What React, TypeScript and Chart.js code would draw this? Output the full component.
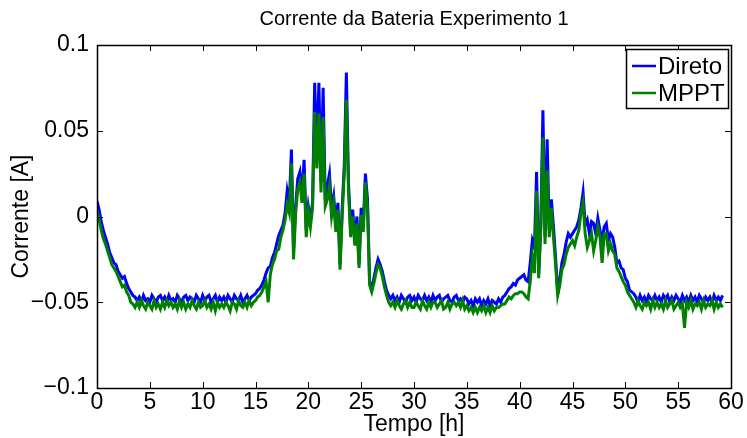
import React, { useEffect, useRef } from "react";
import { Chart, registerables } from "chart.js";

Chart.register(...registerables);

const TITLE = "Corrente da Bateria Experimento 1";
const X_LABEL = "Tempo [h]";
const Y_LABEL = "Corrente [A]";
const SERIES_NAMES = ["Direto", "MPPT"];
const SERIES_COLORS = ["#0000ff", "#008000"];
const X_TICKS = [0, 5, 10, 15, 20, 25, 30, 35, 40, 45, 50, 55, 60];
const Y_TICKS = [-0.1, -0.05, 0, 0.05, 0.1];
const Y_TICK_LABELS = ["\u22120.1", "\u22120.05", "0", "0.05", "0.1"];

// sample spacing of the series (hours)
const SAMPLE_STEP_H = 0.2;

// Battery current, mA, one row per hour (5 samples per hour)
const DIRETO_MA = [
  9, 4, -3, -8, -12,
  -16, -21, -24, -27, -28,
  -32, -34, -36, -35, -39,
  -42, -44, -46, -47, -49,
  -47, -50, -46, -49, -48,
  -50, -46, -48, -50, -47,
  -46, -49, -47, -50, -46,
  -49, -48, -50, -46, -48,
  -50, -47, -46, -49, -47,
  -48, -50, -46, -48, -50,
  -46, -49, -47, -46, -50,
  -48, -46, -50, -47, -49,
  -47, -50, -46, -48, -50,
  -46, -48, -49, -46, -50,
  -48, -46, -49, -47, -46,
  -45, -43, -42, -40, -37,
  -33, -30, -29, -24, -21,
  -16, -11, -8, -5, 2,
  15, 8, 39, -20, 6,
  22, 26, 12, 33, -8,
  6, -2, 8, 78, 35,
  78, 20, 75, 10, 18,
  25, 5, 12, -5, 8,
  -28, 4, 30, 84, 20,
  -8, 4, -14, 0, -28,
  5, -5, 25, 10, -38,
  -42, -36, -30, -25, -28,
  -32, -38, -43, -46, -48,
  -46, -49, -47, -50, -46,
  -48, -50, -47, -46, -49,
  -47, -50, -46, -48, -49,
  -46, -49, -47, -50, -46,
  -49, -47, -46, -50, -48,
  -47, -46, -49, -50, -47,
  -46, -49, -48, -50, -47,
  -48, -51, -49, -52, -48,
  -50, -48, -52, -49, -51,
  -48, -52, -49, -50, -51,
  -48, -50, -47, -46, -44,
  -42, -41, -39, -40, -37,
  -36, -35, -34, -37, -38,
  -27, -14, -18, 26, -33,
  -4, 62, -12, 45, -8,
  10, -6, -24, -45, -36,
  -27, -22, -15, -10, -12,
  -10, -8, -6, -2, 5,
  14, -5, -2, -10, -3,
  -4, -10, -1, -8, -14,
  -6, -4, -14, -10, -12,
  -18, -27, -26, -30, -31,
  -36, -38, -43, -44, -45,
  -47, -50, -46, -49, -47,
  -50, -46, -48, -49, -46,
  -49, -47, -50, -46, -48,
  -46, -50, -47, -49, -46,
  -48, -50, -46, -49, -47,
  -50, -46, -49, -47, -50,
  -46, -48, -50, -47, -49,
  -47, -50, -46, -49, -47,
  -49, -46,
];

const MPPT_MA = [
  4, -2, -8, -13, -16,
  -20, -24, -28, -30, -32,
  -35, -38, -41, -40, -44,
  -46, -50, -51, -53, -50,
  -53, -49, -52, -54, -50,
  -52, -54, -49, -53, -51,
  -54, -50, -53, -49, -52,
  -50, -53, -51, -54, -49,
  -53, -50, -54, -51, -53,
  -49, -52, -54, -50, -53,
  -52, -49, -53, -51, -54,
  -50, -55, -50, -53, -51,
  -53, -50, -52, -55, -50,
  -51, -54, -49, -52, -53,
  -50, -53, -49, -52, -50,
  -49, -47, -46, -44, -41,
  -38, -50, -34, -28, -25,
  -20, -19, -12, -8, -2,
  7, 2, 31, -25, 2,
  16, 20, 8, 25, -12,
  3, -6, 5, 61, 28,
  60, 14, 58, 6, 10,
  18, 0, 8, -9, 4,
  -31, 0, 25, 68, 15,
  -12, 0, -17, -4, -30,
  1, -9, 20, 5, -40,
  -44, -39, -33, -28, -30,
  -35, -41, -46, -50, -52,
  -50, -53, -49, -52, -54,
  -51, -49, -53, -50, -53,
  -53, -50, -52, -54, -49,
  -52, -54, -50, -53, -50,
  -50, -53, -51, -49, -54,
  -53, -50, -54, -51, -50,
  -52, -50, -53, -49, -54,
  -52, -55, -53, -56, -53,
  -56, -53, -55, -52, -56,
  -53, -56, -52, -55, -53,
  -53, -52, -51, -51, -49,
  -47, -48, -46, -45, -45,
  -44, -44, -45, -47, -48,
  -38, -24, -33, 15, -36,
  -8, 46, -16, 27, -12,
  5, -12, -28, -46, -40,
  -31, -28, -22, -18, -16,
  -14, -17, -12, -8, 2,
  8, -10, -18, -14, -10,
  -20, -14, -6, -12, -27,
  -10, -10, -20, -16, -20,
  -22, -30, -32, -35, -38,
  -40, -44, -46, -48, -50,
  -53, -49, -52, -54, -50,
  -52, -50, -54, -49, -53,
  -50, -53, -51, -54, -49,
  -53, -51, -49, -54, -52,
  -50, -53, -51, -65, -50,
  -53, -49, -54, -51, -52,
  -50, -54, -49, -53, -51,
  -52, -49, -54, -50, -53,
  -51, -53,
];

const FONT_FAMILY = "'Liberation Sans', Arial, Helvetica, sans-serif";

const toPoints = (arr: number[]) =>
  arr.map((v, i) => ({ x: i * SAMPLE_STEP_H, y: v / 1000 }));

const boxPlugin = {
  id: "matlabBox",
  afterDatasetsDraw(chart: any) {
    const { ctx, chartArea, scales } = chart;
    const { left, right, top, bottom } = chartArea;
    const xs = scales.x;
    const ys = scales.y;
    const L = 6;
    ctx.save();
    ctx.strokeStyle = "#000";
    ctx.lineWidth = 1;
    ctx.beginPath();
    for (const t of X_TICKS) {
      const px = Math.round(xs.getPixelForValue(t)) + 0.5;
      ctx.moveTo(px, bottom);
      ctx.lineTo(px, bottom - L);
      ctx.moveTo(px, top);
      ctx.lineTo(px, top + L);
    }
    for (const t of Y_TICKS) {
      const py = Math.round(ys.getPixelForValue(t)) + 0.5;
      ctx.moveTo(left, py);
      ctx.lineTo(left + L, py);
      ctx.moveTo(right, py);
      ctx.lineTo(right - L, py);
    }
    ctx.stroke();
    ctx.lineWidth = 1.5;
    ctx.strokeRect(Math.round(left) + 0.5, Math.round(top) + 0.5, Math.round(right - left), Math.round(bottom - top));
    ctx.restore();
  },
  afterDraw(chart: any) {
    const { ctx, chartArea } = chart;
    const { right, top } = chartArea;
    const boxW = 102;
    const boxH = 59;
    const bx = right - 3 - boxW;
    const by = top + 4;
    ctx.save();
    ctx.fillStyle = "#fff";
    ctx.fillRect(bx, by, boxW, boxH);
    ctx.strokeStyle = "#000";
    ctx.lineWidth = 1.5;
    ctx.strokeRect(bx + 0.5, by + 0.5, boxW, boxH);
    ctx.font = `24px ${FONT_FAMILY}`;
    ctx.textBaseline = "middle";
    ctx.textAlign = "left";
    chart.data.datasets.forEach((ds: any, i: number) => {
      const cy = by + 17 + i * 27;
      ctx.strokeStyle = ds.borderColor;
      ctx.lineWidth = 2.5;
      ctx.beginPath();
      ctx.moveTo(bx + 6, cy);
      ctx.lineTo(bx + 30, cy);
      ctx.stroke();
      ctx.fillStyle = "#000";
      ctx.fillText(ds.label, bx + 32, cy + 1);
    });
    ctx.restore();
  },
};

export default function App() {
  const ref = useRef<HTMLCanvasElement | null>(null);

  useEffect(() => {
    if (!ref.current) return;
    const chart = new Chart(ref.current, {
      type: "line",
      data: {
        datasets: [
          {
            label: SERIES_NAMES[0],
            data: toPoints(DIRETO_MA),
            borderColor: SERIES_COLORS[0],
            backgroundColor: SERIES_COLORS[0],
            borderWidth: 3,
            pointRadius: 0,
            tension: 0,
            order: 2,
          },
          {
            label: SERIES_NAMES[1],
            data: toPoints(MPPT_MA),
            borderColor: SERIES_COLORS[1],
            backgroundColor: SERIES_COLORS[1],
            borderWidth: 3,
            pointRadius: 0,
            tension: 0,
            order: 1,
          },
        ],
      },
      options: {
        animation: false,
        responsive: false,
        devicePixelRatio: 1,
        layout: { padding: { left: 0, right: 16, top: 0, bottom: 0 } },
        plugins: {
          legend: { display: false },
          tooltip: { enabled: false },
          title: {
            display: true,
            fullSize: false,
            text: TITLE,
            color: "#000",
            font: { family: FONT_FAMILY, size: 20, weight: "normal" },
            padding: { top: 7.5, bottom: 13.5 },
          },
        },
        scales: {
          x: {
            type: "linear",
            min: 0,
            max: 60,
            afterBuildTicks: (s: any) => {
              s.ticks = X_TICKS.map((v) => ({ value: v }));
            },
            afterFit: (s: any) => {
              s.height = 50;
            },
            grid: { display: false, drawTicks: false },
            border: { display: false },
            ticks: {
              color: "#000",
              font: { family: FONT_FAMILY, size: 23 },
              padding: 1,
              maxRotation: 0,
              autoSkip: false,
            },
            title: {
              display: true,
              text: X_LABEL,
              color: "#000",
              font: { family: FONT_FAMILY, size: 23 },
              padding: { top: 0, bottom: 0 },
            },
          },
          y: {
            type: "linear",
            min: -0.1,
            max: 0.1,
            afterBuildTicks: (s: any) => {
              s.ticks = Y_TICKS.map((v) => ({ value: v }));
            },
            afterFit: (s: any) => {
              s.width = 97;
            },
            grid: { display: false, drawTicks: false },
            border: { display: false },
            ticks: {
              color: "#000",
              font: { family: FONT_FAMILY, size: 23 },
              padding: 8,
              autoSkip: false,
              callback: (v: any) => {
                const idx = Y_TICKS.findIndex((t) => Math.abs(t - Number(v)) < 1e-9);
                return idx >= 0 ? Y_TICK_LABELS[idx] : "";
              },
            },
            title: {
              display: true,
              text: Y_LABEL,
              color: "#000",
              font: { family: FONT_FAMILY, size: 23 },
              padding: { top: 8, bottom: 0 },
            },
          },
        },
      },
      plugins: [boxPlugin],
    });
    return () => chart.destroy();
  }, []);

  return (
    <div style={{ position: "fixed", left: 0, top: 0, width: 747, height: 438, background: "#fff" }}>
      <canvas ref={ref} width={747} height={438} style={{ display: "block" }} />
    </div>
  );
}
